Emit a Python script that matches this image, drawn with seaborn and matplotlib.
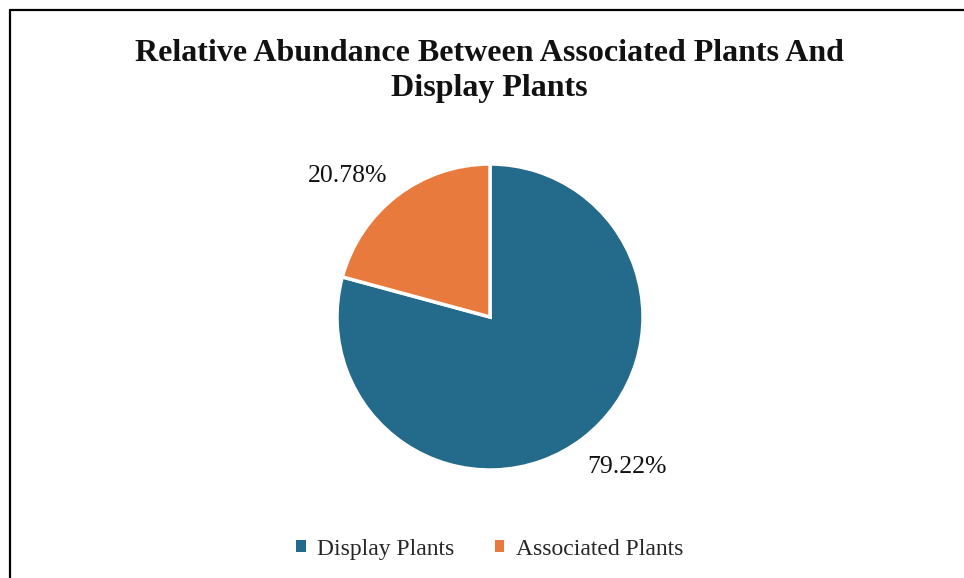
import matplotlib
matplotlib.use("Agg")
import numpy as np
import matplotlib.pyplot as plt
from matplotlib.patches import Patch
from matplotlib.lines import Line2D
import seaborn as sns

categories = ["Display Plants", "Associated Plants"]
values = [79.22, 20.78]
colors = ["#246A8A", "#E97A3E"]
title = "Relative Abundance Between Associated Plants And\nDisplay Plants"

sns.set_theme(style="white")
plt.rcParams["font.family"] = ["Liberation Serif", "DejaVu Serif"]

W, H = 964, 578
fig = plt.figure(figsize=(W / 100, H / 100), dpi=100)
fig.patch.set_facecolor("white")

cx, cy, r = 490, 317, 153
ax = fig.add_axes([(cx - r) / W, (H - cy - r) / H, 2 * r / W, 2 * r / H])
wedges, texts, autotexts = ax.pie(
    values, colors=colors, startangle=90, counterclock=False,
    autopct=lambda p: f"{p:.2f}%", pctdistance=1.32,
    wedgeprops=dict(edgecolor="white", linewidth=2.5),
    textprops=dict(fontsize=18.5, color="#111111"),
)
# nudge labels around the rim (best-fit style placement)
label_shift_deg = [5.0, 8.0]
label_dist = [1.33, 1.31]
for w, t, s, d in zip(wedges, autotexts, label_shift_deg, label_dist):
    ang = np.deg2rad((w.theta1 + w.theta2) / 2 + s)
    t.set_position((d * np.cos(ang), d * np.sin(ang)))
ax.set_xlim(-1, 1)
ax.set_ylim(-1, 1)
ax.set_aspect("equal")
ax.axis("off")

fig.text(0.508, 0.877, title, ha="center", va="center", fontsize=23,
         fontweight="bold", linespacing=1.3, color="#111111")

handles = [Patch(facecolor=c, edgecolor="none") for c in colors]
fig.legend(handles, categories, loc="center", bbox_to_anchor=(0.508, 0.05),
           ncol=2, frameon=False, fontsize=17, handlelength=0.4,
           handleheight=0.4, handletextpad=0.5, columnspacing=1.7)

# outer frame (top and left edges visible)
fig.add_artist(Line2D([10 / W, 1.0], [1 - 10 / H, 1 - 10 / H], color="black", lw=1.6))
fig.add_artist(Line2D([10 / W, 10 / W], [0.0, 1 - 10 / H], color="black", lw=1.6))

fig.savefig("out.png", dpi=100)
